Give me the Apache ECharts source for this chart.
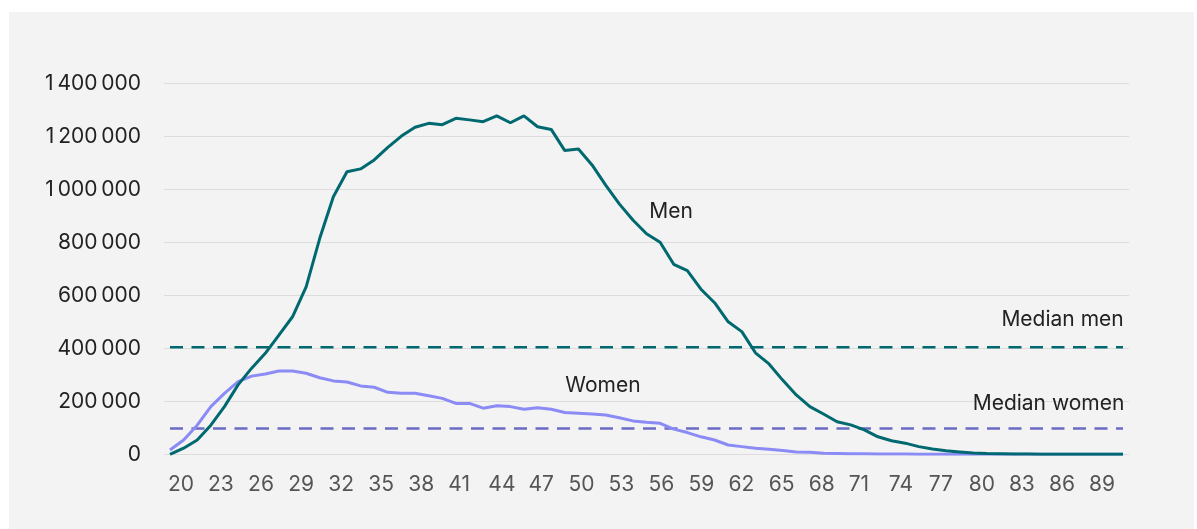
<!DOCTYPE html>
<html>
<head>
	<meta charset="utf-8">
	<title>Men and women by age</title>
	<style>
		html, body { margin: 0; padding: 0; background: #ffffff; }
		#panel { position: absolute; left: 9px; top: 12px; width: 1185px; height: 517px; background: #f3f3f3; }
		#main_echarts { width: 1185px; height: 517px; }
	</style>
</head>
<body>
<div id="panel">
	<div id="main_echarts"></div>
</div>
<script src="https://cdn.jsdelivr.net/npm/echarts@6/dist/echarts.min.js"></script>
<script>
	// ages on the x axis, one point per year
	var ages = [20,21,22,23,24,25,26,27,28,29,30,31,32,33,34,35,36,37,38,39,40,41,42,43,44,45,46,47,48,49,50,
		51,52,53,54,55,56,57,58,59,60,61,62,63,64,65,66,67,68,69,70,71,72,73,74,75,76,77,78,79,80,
		81,82,83,84,85,86,87,88,89,90];
	var men = [0,23000,54000,110000,180000,262000,325000,381000,450000,519000,632000,
		815000,972000,1066000,1077000,1111000,1158000,1201000,1234000,1249000,1244000,
		1268000,1262000,1255000,1277000,1251000,1277000,1236000,1226000,1146000,1152000,
		1092000,1016000,945000,884000,832000,800000,717000,693000,623000,572000,
		500000,463000,383000,341000,280000,224000,180000,152000,123000,111000,
		92000,66000,51000,42000,29000,20000,13000,9000,5000,3000,
		2000,1000,1000,0,0,0,0,0,0,0];
	var women = [16000,54000,110000,180000,230000,274000,295000,303000,314000,314000,306000,
		289000,277000,273000,258000,253000,234000,230000,230000,221000,211000,
		192000,192000,174000,183000,180000,170000,176000,170000,158000,155000,
		152000,148000,138000,126000,121000,117000,95000,82000,66000,54000,
		35000,29000,23000,19000,14000,9000,8000,4000,3000,2000,
		2000,1000,1000,1000,0,0,0,0,0,0,
		0,0,0,0,0,0,0,0,0,0];
	var medianMen = 404000;
	var medianWomen = 97000;
	var ageTicks = [20,23,26,29,32,35,38,41,44,47,50,53,56,59,62,65,68,71,74,77,80,83,86,89];

	var FONT = 'Inter';
	var cMen = '#006970', cWomen = '#8b8bf6', cMedW = '#6b6bc6';

	function pairs(vals) {
		return ages.map(function (a, i) { return [a, vals[i]]; });
	}
	function flat(v) {
		return ages.map(function (a) { return [a, v]; });
	}
	function fmt(v) {
		return String(v).replace(/\B(?=(\d{3})+(?!\d))/g, '\u2009');
	}
	function note(text, x, y, pos) {
		return {
			coord: [x, y], symbol: 'circle', symbolSize: 0,
			label: { show: true, formatter: text, position: pos, distance: 0,
				fontFamily: FONT, fontSize: 21, color: '#222' }
		};
	}

	var myChart = echarts.init(document.getElementById('main_echarts'));
	var option = {
		animation: false,
		grid: { left: 155, top: 71.3, width: 965, height: 371 },
		xAxis: [
			{
				type: 'value', min: 19.56, max: 90.44, show: false
			},
			{
				type: 'value', min: 19.7, max: 92, position: 'bottom',
				axisLine: { show: false }, axisTick: { show: false }, splitLine: { show: false },
				axisLabel: {
					customValues: ageTicks, align: 'left', margin: 20,
					fontFamily: FONT, fontSize: 21, color: '#555'
				}
			}
		],
		yAxis: {
			type: 'value', min: 0, max: 1400000, interval: 200000,
			axisLine: { show: false }, axisTick: { show: false },
			splitLine: { lineStyle: { color: '#dcdcdc', width: 1 } },
			axisLabel: {
				margin: 23, fontFamily: FONT, fontSize: 21, color: '#222',
				padding: [0, 0, 8, 0],
				formatter: fmt
			}
		},
		series: [
			{
				name: 'Median women', type: 'line', xAxisIndex: 0, data: flat(medianWomen),
				showSymbol: false, lineStyle: { color: cMedW, width: 2.5, type: [13, 8.5] },
				markPoint: { silent: true, data: [note('Median women', 90.1, 190000, 'left')] }
			},
			{
				name: 'Median men', type: 'line', xAxisIndex: 0, data: flat(medianMen),
				showSymbol: false, lineStyle: { color: cMen, width: 2.5, type: [13, 8.5] },
				markPoint: { silent: true, data: [note('Median men', 90.05, 507000, 'left')] }
			},
			{
				name: 'Women', type: 'line', xAxisIndex: 0, data: pairs(women),
				showSymbol: false, lineStyle: { color: cWomen, width: 3 },
				markPoint: { silent: true, data: [note('Women', 51.8, 258000, 'inside')] }
			},
			{
				name: 'Men', type: 'line', xAxisIndex: 0, data: pairs(men),
				showSymbol: false, lineStyle: { color: cMen, width: 3 },
				markPoint: { silent: true, data: [note('Men', 56.8, 914000, 'inside')] }
			}
		]
	};
	myChart.setOption(option);
</script>
</body>
</html>
